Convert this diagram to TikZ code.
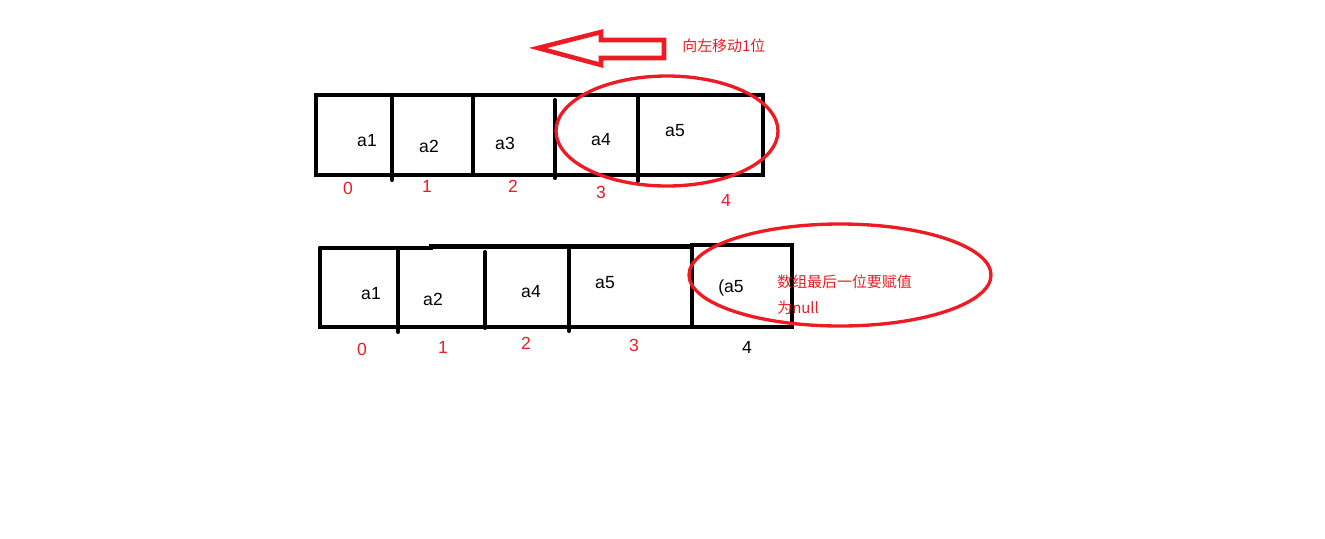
\documentclass[tikz,border=0pt]{standalone}
\usepackage{fontspec}
\setmainfont{Liberation Sans}
\newfontfamily\cjk{Noto Sans CJK SC}
\usetikzlibrary{positioning}
\definecolor{paintred}{RGB}{237,28,36}

\begin{document}
\begin{tikzpicture}[x=0.02cm, y=-0.02cm,
        cell/.style={line width=2.3pt, line cap=round},
        ring/.style={draw=paintred, line width=1.9pt},
        elem/.style={font=\fontsize{10}{12}\selectfont, inner sep=0pt},
        idx/.style={font=\fontsize{10}{12}\selectfont, text=paintred, inner sep=0pt},
        note/.style={font=\cjk\fontsize{8.5}{10}\selectfont, text=paintred, inner sep=0pt, anchor=west}
    ]
        \useasboundingbox (0,0) rectangle (1325,538);
        % move arrow
        \draw[paintred, line width=2.6pt, line join=miter]
            (664,40) -- (601,40) -- (601,32) -- (538,48) -- (601,65) -- (601,58) -- (664,58) -- cycle;
        \node[note] (move) at (682,46) {向左移动1位};

        % array before
        \draw[cell] (316,95) rectangle (763,175);
        \draw[cell] (392,95) -- (392,180);
        \draw[cell] (473,95) -- (473,175);
        \draw[cell] (555,100) -- (555,178);
        \draw[cell] (638,96) -- (638,181);
        \node[elem] (a1) at (367,141) {a1};
        \node[elem] (a2) at (429,146) {a2};
        \node[elem] (a3) at (505,143) {a3};
        \node[elem] (a4) at (601,140) {a4};
        \node[elem] (a5) at (675,131) {a5};
        \node[idx] (i0) at (348,188) {0};
        \node[idx] (i1) at (427,186) {1};
        \node[idx] (i2) at (513,186) {2};
        \node[idx] (i3) at (601,192) {3};
        \node[idx] (i4) at (726,200) {4};
        \draw[ring] (667,131) ellipse [x radius=111, y radius=55];

        % array after
        \draw[cell] (320,248) -- (320,327) -- (792,327) -- (792,245) -- (692,245) -- (692,327);
        \draw[cell] (320,248) -- (431,248) -- (431,246.5) -- (692,246.5);
        \draw[cell] (398,248) -- (398,332);
        \draw[cell] (485,252) -- (485,328);
        \draw[cell] (569,250) -- (569,331);
        \node[elem] (b1) at (371,294) {a1};
        \node[elem] (b2) at (433,299) {a2};
        \node[elem] (b3) at (531,292) {a4};
        \node[elem] (b4) at (605,283) {a5};
        \node[elem] (b5) at (731,288) {(a5};
        \node[idx] (j0) at (362,349) {0};
        \node[idx] (j1) at (443,347) {1};
        \node[idx] (j2) at (526,343) {2};
        \node[idx] (j3) at (634,345) {3};
        \node[idx, text=black] (j4) at (747,347) {4};
        \draw[ring] (840,275) ellipse [x radius=151, y radius=51];
        \node[note] (null1) at (777,282) {数组最后一位要赋值};
        \node[note] (null2) at (777,308) {为null};
\end{tikzpicture}
\end{document}
